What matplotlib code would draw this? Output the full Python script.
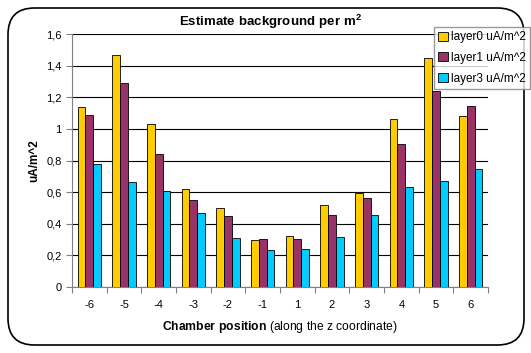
import matplotlib.pyplot as plt
import numpy as np
from matplotlib.patches import FancyBboxPatch

plt.rcParams['font.family'] = ['Liberation Sans', 'DejaVu Sans']
plt.rcParams['mathtext.fontset'] = 'custom'
plt.rcParams['mathtext.rm'] = 'Liberation Sans'
plt.rcParams['mathtext.bf'] = 'Liberation Sans:bold'

positions = ["-6", "-5", "-4", "-3", "-2", "-1", "1", "2", "3", "4", "5", "6"]
layer0 = [1.14, 1.47, 1.03, 0.62, 0.50, 0.295, 0.32, 0.52, 0.595, 1.065, 1.45, 1.08]
layer1 = [1.09, 1.29, 0.84, 0.55, 0.45, 0.305, 0.305, 0.455, 0.565, 0.905, 1.24, 1.145]
layer3 = [0.775, 0.665, 0.61, 0.47, 0.31, 0.235, 0.24, 0.315, 0.455, 0.635, 0.67, 0.745]
series_names = ["layer0 uA/m^2", "layer1 uA/m^2", "layer3 uA/m^2"]
colors = ["#FFCC00", "#993366", "#00CCFF"]

fig = plt.figure(figsize=(5.31, 3.53), dpi=100)
ax = fig.add_axes([72 / 531, 1 - 287 / 353, (488 - 72) / 531, (287 - 34) / 353])

# rounded frame around the whole chart
frame = FancyBboxPatch((8 / 531, 8 / 353), 516 / 531, 337 / 353,
                       boxstyle="round,pad=0,rounding_size=0.05",
                       transform=fig.transFigure, fill=False,
                       edgecolor="black", linewidth=1.2,
                       mutation_aspect=531 / 353)
fig.patches.append(frame)

x = np.arange(len(positions))
w = 1 / 4.5
for i, (vals, name, c) in enumerate(zip([layer0, layer1, layer3], series_names, colors)):
    ax.bar(x + (i - 1) * w, vals, width=w, color=c, edgecolor="black",
           linewidth=0.6, label=name, zorder=3)

ax.set_xlim(-0.5, len(positions) - 0.5)
ax.set_ylim(0, 1.6)
yt = np.arange(0, 1.61, 0.2)
ax.set_yticks(yt)
ax.set_yticklabels(["0" if v == 0 else ("1" if abs(v - 1) < 1e-9 else f"{v:.1f}".replace(".", ",")) for v in yt])
ax.yaxis.grid(True, color="black", linewidth=0.8, zorder=0)
ax.set_axisbelow(True)

# category ticks sit between the groups, labels at the centres
ax.set_xticks(np.arange(-0.5, len(positions), 1))
ax.set_xticklabels([])
ax.set_xticks(x, minor=True)
ax.set_xticklabels(positions, minor=True)
ax.tick_params(axis="x", which="minor", length=0, pad=9, labelsize=8)
ax.tick_params(axis="x", which="major", length=4, color="#808080")
ax.tick_params(axis="y", length=4, color="#808080", labelsize=8)

for s in ["top", "right"]:
    ax.spines[s].set_visible(False)
for s in ["left", "bottom"]:
    ax.spines[s].set_color("#808080")

ax.set_ylabel("uA/m^2", fontsize=8.5, fontweight="bold", labelpad=4)
fig.text(280 / 531, 1 - 327 / 353, r"$\mathbf{Chamber\ position}$ (along the z coordinate)",
         ha="center", va="center", fontsize=8.7)
fig.text(271 / 531, 1 - 22 / 353, r"$\mathbf{Estimate\ background\ per\ m^2}$",
         ha="center", va="center", fontsize=9.5)

fig.legend(loc="upper left", bbox_to_anchor=(434 / 531, 1 - 27 / 353),
           fontsize=8.5, frameon=True, fancybox=False, edgecolor="#808080",
           handlelength=0.8, handleheight=0.8, handletextpad=0.3,
           borderpad=0.35, labelspacing=0.75, borderaxespad=0)

fig.savefig("out.png", dpi=100)
